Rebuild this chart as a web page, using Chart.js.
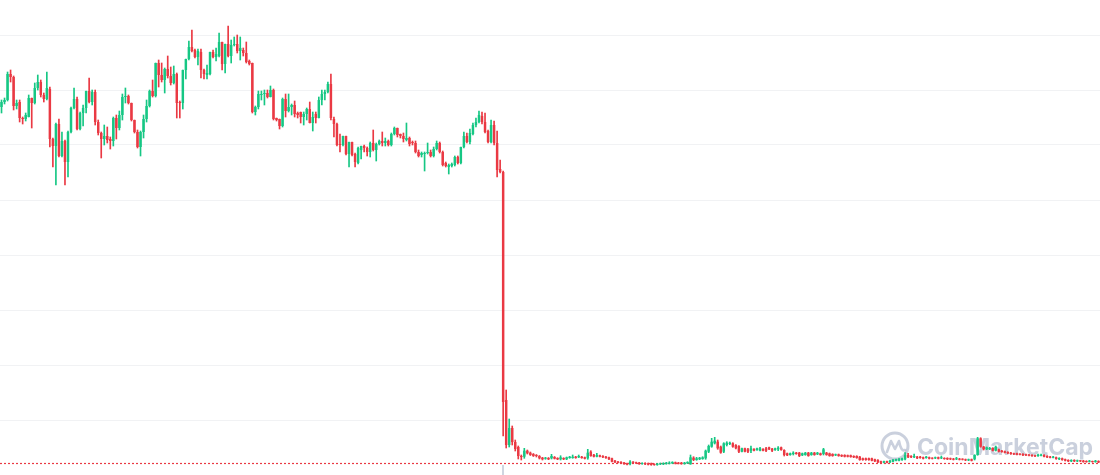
<!DOCTYPE html>
<html><head><meta charset="utf-8">
<script src="https://cdn.jsdelivr.net/npm/chart.js@4.4.1/dist/chart.umd.min.js"></script>
<style>html,body{margin:0;padding:0;background:#fff;overflow:hidden}canvas{display:block}</style>
</head><body>
<canvas id="c" width="1100" height="475"></canvas>
<script>
// ---- OHLC values (arbitrary price units) ----
const open = [
368,373,375,401,398,369,373,357,356,358,377,372,387,393,380,376,386,336,329,351,319,334,313,343,367,376,346,362,367,384,373,383,353,
342,336,339,336,334,357,347,360,378,379,372,355,343,328,343,356,369,384,379,412,400,395,406,399,392,401,373,372,405,416,428,425,418,
423,405,400,401,423,418,419,433,411,431,419,430,431,424,425,422,414,412,363,368,380,381,382,378,385,357,356,349,376,364,368,370,362,
363,358,361,366,352,361,357,375,381,383,391,356,351,331,330,339,321,333,321,312,325,329,327,323,332,325,331,334,332,334,330,341,347,341,
339,335,337,333,332,323,320,321,322,323,319,326,332,323,312,308,309,310,318,312,328,339,333,341,350,353,359,353,344,333,350,332,306,
303,75,30,47,33,28,19,
18.3,24.3,22.3,21,20,19,17.3,16.3,17,16.7,18,17,15.7,17,15.7,17,17,18.3,17.7,18.3,17.7,16.7,23.3,20.3,18.3,19.7,19,18.3,17.7,16.7,14.3,13.3,13,12.3,11.7,11,13,12.7,12.3,11,12,11.7,11.7,11,
10,10.7,10.7,11,11.3,11.7,12.7,12.3,12.3,11,11.7,10.7,17.3,15,15.7,16,16.7,23.3,28.3,31.7,33.3,28.3,23.3,30,31,31.7,30,29,23.3,26.7,25.7,24.3,26,25,24.3,26,26.7,27.7,26.3,25,25.7,27.7,25,21.7,20,21,22.3,22.3,19.7,20,22.3,20,
22.3,20.7,21.7,21,22.3,21.7,21,19.7,20.7,20,20,19.7,19.7,19,19,18.3,16.7,16.7,16.7,16.7,15.7,15,13.7,12.3,13.7,12.7,13.3,14.3,14.3,15,15.7,20,19,17.7,18.3,18.3,17.7,17,17.7,17,16.7,17.7,16.7,17,17,16.7,16.3,15.7,16.3,16,
15.7,14.7,15.7,15.7,20,36.7,28.3,25.7,25.7,27,24.3,25.7,24.3,23.7,23,22.3,21.7,21.7,21,21,20.7,20.3,20,19.7,19,19.3,20,19,18.3,17.3,17.7,15.7,16.7,15.7,15,13.7,15,13.7,14.3,14.3,14,13.3,13.7,13,14
];
const high = [
375,377,403,405,399,375,375,358,362,380,377,392,400,395,382,403,388,337,352,356,343,335,344,368,387,378,363,370,384,397,385,385,355,
343,350,348,338,358,360,364,381,387,380,372,355,345,344,360,375,385,395,412,415,412,407,419,408,409,402,374,405,416,434,445,426,426,
426,406,410,423,425,427,442,433,431,449,435,438,440,438,427,433,415,412,369,384,384,385,385,389,386,357,356,377,381,381,371,374,363,
363,363,367,373,363,363,378,385,385,393,401,358,352,341,339,339,333,333,322,328,329,330,328,333,345,332,335,343,337,335,342,348,347,341,
342,352,338,334,334,325,323,323,332,325,328,334,333,324,313,311,312,319,319,328,343,342,346,352,357,364,363,362,345,355,354,344,315,
304,85,56,49,35,29,20,
26.7,25,23,21.5,20.5,19.5,17.7,17.7,17.5,20.7,18.5,17.3,19.3,17.3,18,18.7,20,18.7,20,18.7,18,25.7,24.3,20.7,21.7,20,19.3,18.7,18,17,14.7,13.7,13.3,12.7,12,14.3,13.3,13,12.7,12.3,12.3,12,12,11.3,
11.7,12,12.3,12.7,13.3,13.3,13,12.7,12.7,12.7,13.3,20,18.3,17.7,17.7,18.3,25,30,36.7,37.7,35,29,32.3,33.3,33,32.3,30.3,29.3,27,27,26.7,29,26.3,27,27.7,26.3,27.7,28,26.7,27,28.3,28,25.3,22,22,23.3,22.7,22.7,22,22.7,22.7,22.7,
22.7,22.7,22,26.7,22.7,22,21.3,21,21,20.3,20.3,20,20,19.3,19.3,18.7,17,17,17,17,16,15.3,14,14,14,14.7,15.7,16,16.7,17,22.3,21.7,19.3,21,18.7,18.7,18,18.7,18,17.3,18,18,19,17.3,17.3,17,16.7,17.7,16.7,16.3,
16,16,16,20.3,37.7,37.3,28.7,28,27.7,27.3,29,26,24.7,24,23.3,22.7,22,22,21.3,21.3,21,20.7,20.3,20,21,21,20.3,19.3,18.7,18.7,18,17.3,17,16,15.3,15.3,15.3,15,14.7,14.7,14.3,14.7,14,14.7,14.3
];
const low = [
362,371,374,393,365,366,353,351,354,358,347,371,385,378,373,375,328,308,290,318,318,290,298,342,366,345,345,349,362,372,370,350,340,
317,330,332,326,329,336,345,355,372,371,354,342,327,319,337,353,368,378,378,388,393,382,397,390,391,357,357,366,396,415,423,417,410,
397,396,396,400,417,414,418,405,402,418,412,429,422,415,419,412,410,362,360,366,375,370,377,378,355,354,346,348,358,363,360,358,357,
352,350,355,352,344,352,357,370,375,382,355,338,329,323,329,320,308,319,308,311,316,323,319,318,324,314,330,329,329,329,329,340,338,337,
333,334,329,330,322,318,318,304,321,318,318,325,322,309,308,301,308,309,311,311,327,332,331,340,348,352,351,342,332,332,330,298,302,
39,27,28,30,24,16,15,
16.7,21,19.5,18.5,18,16,15,15.7,15.3,16,16,15.3,15,15.3,15.3,16.7,16.7,16.7,17.3,16.7,16,15.7,18.7,18,18,18,17.3,16.7,15.3,13,12.3,12,11.3,10.7,10,10,12,11.3,10.7,10.7,10.3,10,9.7,9.7,
9.7,10.3,10.3,10.7,11,11.3,11,11,10.7,10.7,11.3,10.7,14.3,14.7,15.3,15.7,15.7,22.3,27.7,31,25.7,21.7,22.3,29,30.3,27.7,26,22.3,23,23,22.3,22.3,24,24.7,24,24,23.3,25.3,23.3,24.7,24.3,24.7,19,19.3,19.7,20,20.7,18.3,19.3,19.7,18.7,19.7,
19.7,20.3,19.7,20,19.7,18.7,18.7,19.3,18.7,18.3,18,18,17.7,17.3,16.7,14.7,14.7,14.7,14.7,14,13.3,12.3,12,12,12,12.3,13,14,14,14.7,15,17.3,17.3,17.3,16.3,16.7,16,16.7,16,16,16.3,16,16.3,15.7,15.3,15.3,15,15.3,15,15,
14.3,14.3,14,15,19.7,27.7,25,25.3,25.3,24,24,23,22.7,22,21.3,20.7,20.3,20,20,19.3,19.3,19,18.7,18.3,18.7,19,18,17.3,17,17,15.7,15.3,14.7,14,13.3,13.3,13.3,13.3,13.3,12.7,12.7,13,12.7,12.7,12.3
];
const close = [
373,375,401,398,369,372,357,356,360,377,372,387,393,380,376,387,336,329,351,319,334,313,343,367,376,346,362,367,384,373,383,353,342,
336,339,335,334,357,347,360,378,379,372,355,343,328,343,356,369,384,379,412,400,395,406,399,392,401,372,372,405,416,428,424,418,424,
405,401,402,423,418,421,433,411,431,419,430,431,424,427,422,413,411,363,368,381,381,382,378,385,356,355,349,376,364,368,370,361,360,
358,361,366,352,358,357,375,381,383,391,357,351,330,330,339,321,333,320,313,327,329,327,323,332,325,331,334,332,334,330,341,347,340,339,
336,337,331,332,323,319,322,322,323,319,326,332,323,310,309,310,311,318,312,328,339,333,342,350,353,360,353,343,333,350,332,305,303,
73,30,47,33,26,19,18,
24.3,21.7,20,19,19,16.7,15.7,17.3,15.7,19,16.3,15.7,17.7,15.7,17.7,18.3,18.3,17,19,17,16.3,22.3,19,18.3,20,18.3,17.7,17,15.7,13.3,12.7,12.3,11.7,11,10.3,13.3,12.3,11.7,11,12,10.7,10.3,10,10,
11.3,11.7,12,12.3,12.3,13,11.3,11.3,11,12.3,13,17.7,15,16.7,17.3,17.7,24.3,29,33.3,34.3,26.7,22.3,31.7,32.3,32.3,28.3,26.7,23.3,26.7,23.3,23.3,26.7,24.3,26.7,26.7,24.3,24.3,25.7,24.3,26.7,27.3,25,20,19.7,21.7,22.3,21,19,21.7,22.3,19,22.3,
20,22.3,20,25.7,20,19,19,20.7,19,18.7,18.3,18.3,18,17.7,17,15,15,15,15,14.3,13.7,12.7,12.3,13.7,12.3,14.3,15,15.7,15.7,16.7,20,17.7,17.7,19,16.7,17,16.3,18.3,16.3,16.3,17.7,16.3,17.7,16,15.7,15.7,15.3,16.7,15.3,15.3,
14.7,15.7,14.3,20,36.7,28.3,25.7,27.7,27,24.3,28.3,23.3,23,22.3,21.7,21,20.7,20.3,20.3,19.7,19.7,19.3,19,18.7,20.3,20.3,18.3,17.7,17.3,18.3,16,17,15,14.3,13.7,15,13.7,14.7,13.7,13,13,14.3,13,14.3,12.5
];
const labels = close.map((_, i) => 'T' + (i + 1));
const gridValues = [55, 110, 165, 220, 275, 330, 385, 440];
const Y_MIN = 0, Y_MAX = 475;
const MARK_INDEX = 166;          // candle carrying the small axis tick
const WATERMARK = 'CoinMarketCap';

const UP = '#16c784', DOWN = '#ea3943';
const colors = close.map((c, i) => (c >= open[i] ? UP : DOWN));
const LAST = close[close.length - 1];

const overlay = {
  id: 'overlay',
  beforeDatasetsDraw(chart) {
    const { ctx, chartArea } = chart;
    const y = chart.scales.y;
    // watermark
    ctx.save();
    const wm = 'rgba(150,162,188,0.5)';
    const cx = 895, cy = 446, r = 13;
    ctx.strokeStyle = wm; ctx.lineWidth = 3; ctx.lineCap = 'round'; ctx.lineJoin = 'round';
    ctx.beginPath(); ctx.arc(cx, cy, r, 0, Math.PI * 2); ctx.stroke();
    ctx.lineWidth = 2.6;
    ctx.beginPath();
    ctx.moveTo(cx - 8, cy + 6);
    ctx.lineTo(cx - 4, cy - 5);
    ctx.lineTo(cx, cy + 3);
    ctx.lineTo(cx + 4, cy - 5);
    ctx.quadraticCurveTo(cx + 6, cy + 6, cx + 10, cy + 4);
    ctx.stroke();
    ctx.fillStyle = wm;
    ctx.font = 'bold 23px Inter, "Open Sans", sans-serif';
    ctx.textBaseline = 'alphabetic';
    ctx.fillText(WATERMARK, 917, 455);
    ctx.restore();
    // last price dotted line
    const py = Math.round(y.getPixelForValue(LAST)) + 0.5;
    ctx.save();
    ctx.strokeStyle = DOWN; ctx.lineWidth = 1.2; ctx.setLineDash([2, 2]);
    ctx.beginPath(); ctx.moveTo(chartArea.left, py); ctx.lineTo(chartArea.right, py); ctx.stroke();
    ctx.restore();
  },
  afterDraw(chart) {
    const { ctx, chartArea } = chart;
    const x = Math.round(chart.scales.x.getPixelForValue(MARK_INDEX));
    ctx.save();
    ctx.fillStyle = '#cfd5e0';
    ctx.fillRect(x - 1, chartArea.bottom - 10, 2, 10);
    ctx.restore();
  }
};

new Chart(document.getElementById('c'), {
  type: 'bar',
  data: {
    labels,
    datasets: [
      {
        label: 'body',
        data: open.map((o, i) => [o, close[i]]),
        backgroundColor: colors,
        borderWidth: 0,
        borderSkipped: false,
        grouped: false,
        barPercentage: 0.82,
        categoryPercentage: 1,
        minBarLength: 1,
        order: 0
      },
      {
        label: 'wick',
        data: low.map((l, i) => [l, high[i]]),
        backgroundColor: colors,
        borderWidth: 0,
        borderSkipped: false,
        grouped: false,
        barThickness: 1,
        order: 1
      }
    ]
  },
  options: {
    responsive: false,
    animation: false,
    devicePixelRatio: 1,
    layout: { padding: 0 },
    plugins: { legend: { display: false }, tooltip: { enabled: false } },
    scales: {
      x: { display: false, offset: true },
      y: {
        min: Y_MIN, max: Y_MAX,
        afterBuildTicks: (s) => { s.ticks = gridValues.map(v => ({ value: v })); },
        afterFit: (s) => { s.width = 0; },
        ticks: { display: false },
        border: { display: false },
        grid: { color: '#f1f2f4', lineWidth: 1, drawTicks: false }
      }
    }
  },
  plugins: [overlay]
});
</script>
</body></html>
